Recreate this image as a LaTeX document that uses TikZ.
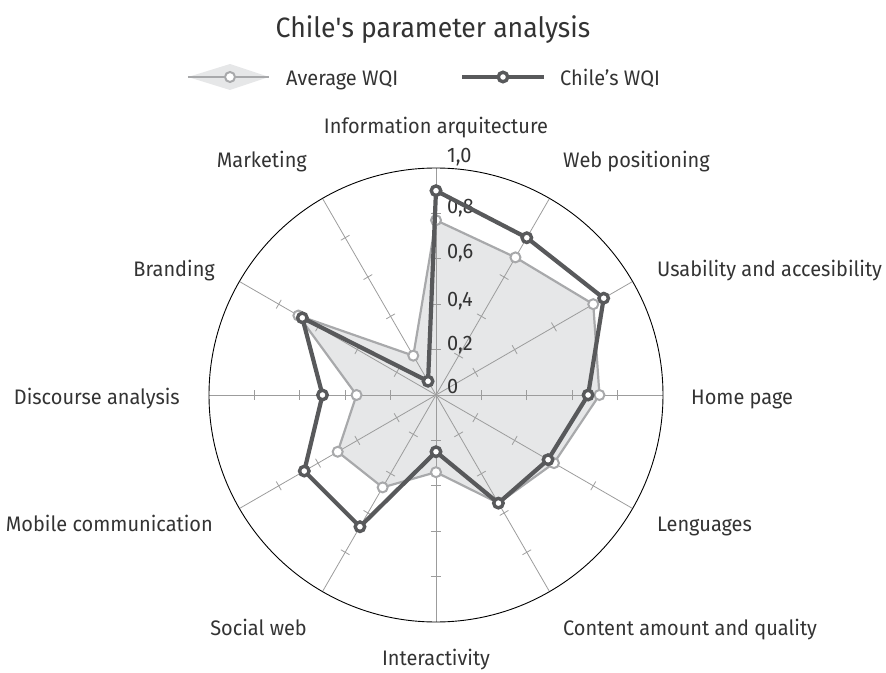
\documentclass[tikz,border=0pt]{standalone}
\usepackage{fontspec}
\setmainfont{Fira Sans}[FakeStretch=0.95]
\definecolor{inkgray}{HTML}{333333}
\definecolor{avggray}{HTML}{A8A9AB}
\definecolor{avgshade}{HTML}{E6E7E8}
\definecolor{chilegray}{HTML}{58595B}
\definecolor{spokegray}{HTML}{9C9C9C}
\tikzset{
  spoke/.style={draw=spokegray, line width=0.8pt},
  rim/.style={draw=black, line width=0.9pt},
  avgline/.style={draw=avggray, line width=2.2pt, line join=round},
  chileline/.style={draw=chilegray, line width=4.2pt, line join=round},
  avgdot/.style={circle, draw=avggray, fill=white, line width=2pt, minimum size=10pt, inner sep=0pt},
  chiledot/.style={circle, draw=chilegray, fill=white, line width=3.4pt, minimum size=9.5pt, inner sep=0pt},
  labeltext/.style={inner sep=0pt, text=inkgray, font=\fontsize{21}{25}\selectfont},
  ticklabel/.style={labeltext, anchor=base west},
}

\begin{document}
\begin{tikzpicture}[x=1pt,y=1pt]
  \useasboundingbox (-436,-277) rectangle (450,395);
  \def\R{227}
  \coordinate (o) at (0,0);

  % values, clockwise from the top
  \foreach \v [count=\i] in {0.77,0.70,0.80,0.72,0.60,0.55,0.34,0.47,0.50,0.35,0.70,0.20}
    \coordinate (a\i) at ({120-30*\i}:{\v*\R});
  \foreach \v [count=\i] in {0.90,0.80,0.853,0.67,0.57,0.55,0.25,0.67,0.67,0.50,0.68,0.07}
    \coordinate (c\i) at ({120-30*\i}:{\v*\R});

  \fill[avgshade] (a1) \foreach \i in {2,...,12}{ -- (a\i)} -- cycle;

  % spokes and ticks
  \foreach \a in {0,30,...,330}{
    \draw[spoke] (o) -- (\a:\R);
    \foreach \k in {1,...,4}
      \draw[spoke, rotate=\a] (\k*45.4,-5) -- (\k*45.4,5);
  }
  \draw[rim] (o) circle (\R);

  \foreach \y/\t [count=\j] in {2/0, 45/{0,2}, 88/{0,4}, 136/{0,6}, 181/{0,8}, 232/{1,0}}
    \node[ticklabel] (t\j) at (11,\y) {\t};

  % series
  \draw[avgline] (a1) \foreach \i in {2,...,12}{ -- (a\i)} -- cycle;
  \foreach \i in {1,...,12}
    \node[avgdot] (ad\i) at (a\i) {};
  \draw[chileline] (c1) \foreach \i in {2,...,12}{ -- (c\i)} -- cycle;
  \foreach \i in {1,...,12}
    \node[chiledot] (cd\i) at (c\i) {};

  % axis names
  \node[labeltext, anchor=base] (infoarq) at (0,261) {Information arquitecture};
  \node[labeltext, anchor=base west] (webpos) at (127,227) {Web positioning};
  \node[labeltext, anchor=base west] (usab) at (221,118) {Usability and accesibility};
  \node[labeltext, anchor=base west] (home) at (255,-9) {Home page};
  \node[labeltext, anchor=base west] (lang) at (221,-136) {Lenguages};
  \node[labeltext, anchor=base west] (content) at (127,-240) {Content amount and quality};
  \node[labeltext, anchor=base] (interact) at (0,-270) {Interactivity};
  \node[labeltext, anchor=base east] (social) at (-129,-240) {Social web};
  \node[labeltext, anchor=base east] (mobile) at (-223,-136) {Mobile communication};
  \node[labeltext, anchor=base east] (discourse) at (-256,-9) {Discourse analysis};
  \node[labeltext, anchor=base east] (brand) at (-221,118) {Branding};
  \node[labeltext, anchor=base east] (market) at (-129,227) {Marketing};

  % legend
  \coordinate (la) at (-248,318);
  \coordinate (lb) at (-167,318);
  \fill[avgshade] (la) -- (-206,331) -- (lb) -- (-206,305) -- cycle;
  \draw[avgline] (la) -- (lb);
  \node[avgdot] (lavg) at (-206,318) {};
  \node[labeltext, anchor=base west] (avgtxt) at (-150,309) {Average WQI};
  \coordinate (lc) at (26,318);
  \coordinate (ld) at (108,318);
  \draw[chileline, line cap=butt] (lc) -- (ld);
  \node[chiledot] (lchile) at (67,318) {};
  \node[labeltext, anchor=base west] (chiletxt) at (124,309) {Chile’s WQI};

  \node[labeltext, anchor=base, font=\fontsize{28}{33}\selectfont] (title) at (-3,357)
    {Chile\textquotesingle s parameter analysis};
\end{tikzpicture}
\end{document}
